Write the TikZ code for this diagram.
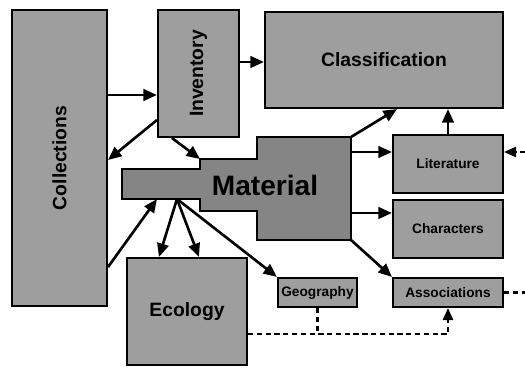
\documentclass[tikz,border=0pt]{standalone}
\usepackage{fontspec}
\setmainfont{Liberation Sans}
\usetikzlibrary{arrows.meta, calc}
\definecolor{shade}{gray}{0.62}
\definecolor{dark}{gray}{0.52}

\begin{document}
\begin{tikzpicture}[x=0.02cm, y=-0.02cm,
          bx/.style={draw, line width=1.2pt, fill=shade, inner sep=0pt,
                     font=\bfseries\fontsize{11}{12}\selectfont},
          sbx/.style={bx, font=\bfseries\fontsize{7.8}{9}\selectfont},
          ar/.style={line width=1.5pt, -{Triangle[length=2.7mm, width=2.3mm]}},
          dl/.style={line width=1.3pt, dash pattern=on 3pt off 2pt}
        ]
        \useasboundingbox (0,0) rectangle (525,368);

        % boxes
        \node[bx, minimum width=1.9cm, minimum height=5.92cm] (coll) at (59.5,158) {\rotatebox{90}{Collections}};
        \node[bx, minimum width=1.62cm, minimum height=2.54cm] (inv) at (198.5,73.5) {\rotatebox{90}{Inventory}};
        \node[bx, minimum width=4.76cm, minimum height=1.92cm] (cls) at (384,60) {Classification};
        \node[sbx, minimum width=2.2cm, minimum height=1.16cm] (lit) at (448,164) {Literature};
        \node[sbx, minimum width=2.2cm, minimum height=1.16cm] (chr) at (448,229) {Characters};
        \node[sbx, minimum width=2.2cm, minimum height=0.58cm] (asc) at (448,292.5) {Associations};
        \node[sbx, minimum width=1.58cm, minimum height=0.58cm] (geo) at (317.5,292.5) {Geography};
        \node[bx, minimum width=2.4cm, minimum height=2.14cm] (eco) at (187,311.5) {Ecology};

        % material, stepped outline
        \draw[line width=1pt, fill=dark] (122,169) -- (200,169) -- (200,159) -- (257,159) -- (257,137)
          -- (351,137) -- (351,240) -- (257,240) -- (257,211) -- (200,211) -- (200,199) -- (122,199) -- cycle;
        \node[font=\bfseries\fontsize{16}{18}\selectfont, inner sep=0pt] (mat) at (265,185) {Material};
        \coordinate (mL) at (157,199);
        \coordinate (mB) at (177,199);
        \coordinate (mN) at (200,159);
        \coordinate (mNE) at (351,137);
        \coordinate (mSE) at (351,240);

        \draw[ar] (coll.east |- 0,95) -- (inv.west |- 0,95);
        \draw[ar] (inv.east |- 0,62) -- (cls.west |- 0,62);
        \draw[ar] (inv.west |- 0,120) -- (coll.east |- 0,160);
        \draw[ar] ($(inv.south west)+(15,0)$) -- (mN);
        \draw[ar] (coll.east |- 0,267) -- (mL);
        \draw[ar] (mB) -- ($(eco.north west)+(33,0)$);
        \draw[ar] (mB) -- ($(eco.north west)+(73,0)$);
        \draw[ar] (mB) -- (geo.north west);
        \draw[ar] (mNE) -- ($(cls.south west)+(133,0)$);
        \draw[ar] (lit.north) -- (lit.north |- cls.south);
        \draw[ar] (mNE |- 0,152) -- (lit.west |- 0,152);
        \draw[ar] (mNE |- 0,213) -- (chr.west |- 0,213);
        \draw[ar] (mSE) -- (asc.north west);

        % dashed links
        \draw[dl] (geo.south) -- (geo.south |- 0,334);
        \draw[dl, -{Triangle[length=2.4mm, width=2mm]}] (eco.east |- 0,334) -| (asc.south);
        \draw[dl, -{Triangle[length=2.4mm, width=2mm]}] (asc.east) -- (528,292.5) |- (lit.east |- 0,152);
      \end{tikzpicture}
\end{document}
